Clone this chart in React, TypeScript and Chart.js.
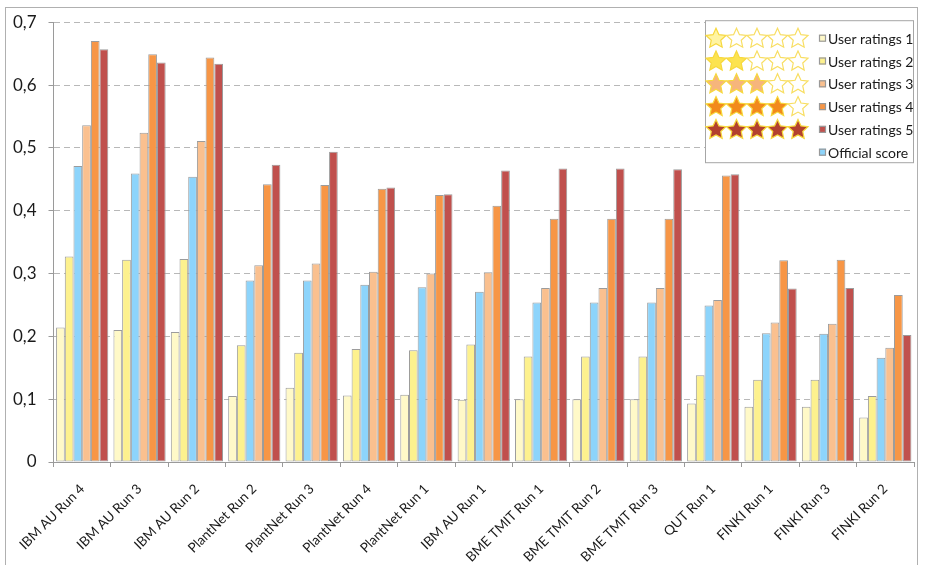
import React, { useEffect, useRef } from "react";
import { Chart, registerables } from "chart.js";

Chart.register(...registerables);

const categories = [
  "IBM AU Run 4", "IBM AU Run 3", "IBM AU Run 2", "PlantNet Run 2", "PlantNet Run 3",
  "PlantNet Run 4", "PlantNet Run 1", "IBM AU Run 1", "BME TMIT Run 1", "BME TMIT Run 2",
  "BME TMIT Run 3", "QUT Run 1", "FINKI Run 1", "FINKI Run 3", "FINKI Run 2",
];

const userRatings1 = [0.214, 0.210, 0.207, 0.105, 0.118, 0.106, 0.107, 0.099, 0.100, 0.100, 0.100, 0.093, 0.088, 0.088, 0.071];
const userRatings2 = [0.327, 0.322, 0.323, 0.186, 0.174, 0.180, 0.178, 0.187, 0.168, 0.168, 0.168, 0.138, 0.131, 0.131, 0.105];
const officialScore = [0.471, 0.459, 0.454, 0.289, 0.289, 0.282, 0.278, 0.271, 0.254, 0.254, 0.254, 0.249, 0.205, 0.204, 0.166];
const userRatings3 = [0.536, 0.524, 0.511, 0.313, 0.316, 0.303, 0.300, 0.302, 0.277, 0.277, 0.277, 0.258, 0.222, 0.220, 0.182];
const userRatings4 = [0.670, 0.649, 0.644, 0.442, 0.441, 0.435, 0.425, 0.408, 0.387, 0.387, 0.387, 0.456, 0.321, 0.322, 0.266];
const userRatings5 = [0.657, 0.636, 0.634, 0.473, 0.494, 0.437, 0.426, 0.464, 0.467, 0.467, 0.466, 0.458, 0.276, 0.277, 0.202];

const seriesLabels = ["User ratings 1", "User ratings 2", "Official score", "User ratings 3", "User ratings 4", "User ratings 5"];
const seriesStars = [1, 2, 0, 3, 4, 5];
const legendOrder = [0, 1, 3, 4, 5, 2];

const FONT = "Lato, 'DejaVu Sans', sans-serif";

function drawStar(ctx: CanvasRenderingContext2D, cx: number, cy: number, ro: number, ri: number, fill: string, stroke: string) {
  ctx.beginPath();
  for (let i = 0; i < 10; i++) {
    const r = i % 2 === 0 ? ro : ri;
    const a = -Math.PI / 2 + (i * Math.PI) / 5;
    const x = cx + r * Math.cos(a);
    const y = cy + r * Math.sin(a);
    if (i === 0) ctx.moveTo(x, y);
    else ctx.lineTo(x, y);
  }
  ctx.closePath();
  ctx.fillStyle = fill;
  ctx.fill();
  ctx.lineWidth = 1.2;
  ctx.strokeStyle = stroke;
  ctx.stroke();
}

const starFills = ["#FFF4A3", "#FCE34F", "#F6B57C", "#F28A1C", "#B3402F"];

const starLegendPlugin = {
  id: "starLegend",
  afterDraw(chart: any) {
    const ctx: CanvasRenderingContext2D = chart.ctx;
    const area = chart.chartArea;
    const left = area.right - 209;
    const top = area.top - 2;
    const width = 208;
    const height = 142;
    ctx.save();
    ctx.fillStyle = "#ffffff";
    ctx.fillRect(left, top, width, height);
    ctx.strokeStyle = "#a6a6a6";
    ctx.lineWidth = 1;
    ctx.strokeRect(left + 0.5, top + 0.5, width, height);
    const rowH = 22.8;
    legendOrder.forEach((di, row) => {
      const ds = chart.data.datasets[di];
      const cy = top + 18 + row * rowH;
      const n = seriesStars[di];
      if (n > 0) {
        for (let j = 0; j < 5; j++) {
          const cx = left + 11 + j * 20.5;
          if (j < n) drawStar(ctx, cx, cy + 0.5, 10.5, 5, starFills[n - 1], "#F7D83C");
          else drawStar(ctx, cx, cy + 0.5, 10.5, 5, "#ffffff", "#F8DE62");
        }
      }
      ctx.fillStyle = ds.backgroundColor;
      ctx.fillRect(left + 114, cy - 3.5, 7, 7);
      ctx.strokeStyle = "#999999";
      ctx.strokeRect(left + 114.5, cy - 3, 6, 6);
      ctx.fillStyle = "#1a1a1a";
      ctx.font = `14px ${FONT}`;
      ctx.textBaseline = "middle";
      ctx.textAlign = "left";
      ctx.fillText(ds.label, left + 123, cy + 1);
    });
    ctx.restore();
  },
};

const colors = ["#FFF9C8", "#FDF18E", "#8DD4FB", "#FAC08F", "#F79646", "#C0504D"];
const seriesData = [userRatings1, userRatings2, officialScore, userRatings3, userRatings4, userRatings5];

export default function App() {
  const ref = useRef<HTMLCanvasElement | null>(null);
  useEffect(() => {
    if (!ref.current) return;
    const chart = new Chart(ref.current, {
      type: "bar",
      data: {
        labels: categories,
        datasets: seriesData.map((d, i) => ({
          label: seriesLabels[i],
          data: d,
          backgroundColor: colors[i],
          borderColor: "#9c9c9c",
          borderWidth: 1,
          borderSkipped: false,
          categoryPercentage: 0.91,
          barPercentage: 1,
        })),
      },
      options: {
        responsive: false,
        animation: false,
        layout: { padding: { top: 22, right: 12, bottom: 0, left: 0 } },
        plugins: {
          legend: { display: false },
          tooltip: { enabled: false },
        },
        scales: {
          x: {
            grid: { drawOnChartArea: false, drawTicks: true, tickLength: 5, color: "#9a9a9a", offset: true },
            border: { color: "#9a9a9a" },
            ticks: {
              autoSkip: false,
              maxRotation: 45,
              minRotation: 45,
              padding: 14,
              color: "#1a1a1a",
              font: { family: FONT, size: 13.5 },
            },
            afterFit: (s: any) => { s.height = 103; },
          },
          y: {
            min: 0,
            max: 0.7,
            ticks: {
              stepSize: 0.1,
              padding: 12,
              color: "#1a1a1a",
              font: { family: FONT, size: 17 },
              callback: (v: any) => (Number(v) === 0 ? "0" : Number(v).toFixed(1).replace(".", ",")),
            },
            grid: { color: "#b8b8b8", tickLength: 5, tickColor: "#9a9a9a" },
            border: { color: "#9a9a9a", dash: [6, 4] },
            afterFit: (s: any) => { s.width = 53.5; },
          },
        },
      },
      plugins: [starLegendPlugin],
    });
    return () => chart.destroy();
  }, []);

  return (
    <div style={{ position: "fixed", left: 0, top: 0, width: 926, height: 565, background: "#fff", overflow: "hidden" }}>
      <div style={{ position: "absolute", left: 5, top: 7, width: 913, height: 600, border: "1px solid #b0b0b0", boxSizing: "border-box" }} />
      <canvas ref={ref} width={926} height={565} style={{ position: "absolute", left: 0, top: 0, width: 926, height: 565 }} />
    </div>
  );
}
